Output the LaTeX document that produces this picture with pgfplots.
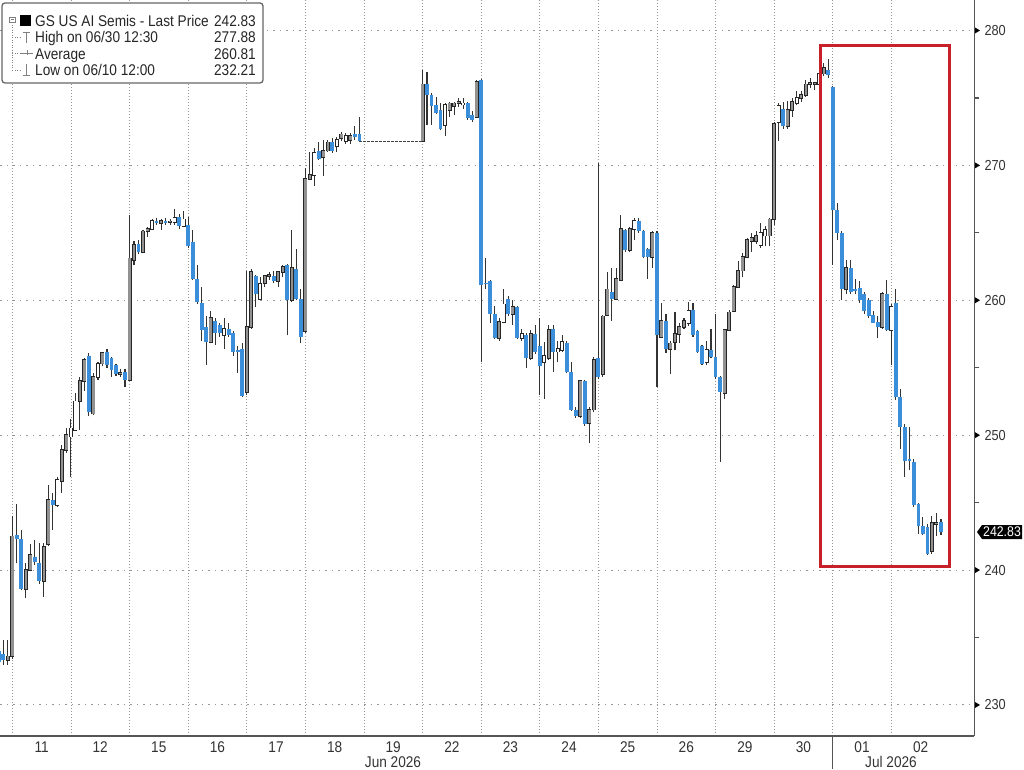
\documentclass[border=0pt]{standalone}
\usepackage{fontspec}
\setmainfont{Liberation Sans}
\newfontfamily\bbfont[FakeStretch=0.88]{Liberation Sans}
\usepackage{pgfplots}
\pgfplotsset{compat=1.18}
\usepackage{pgfplotstable}

\definecolor{bbblue}{RGB}{58,142,218}
\definecolor{bbgray}{RGB}{145,145,145}
\definecolor{gridgray}{RGB}{150,150,150}
\definecolor{axisgray}{RGB}{85,85,85}
\definecolor{boxred}{RGB}{200,32,40}

% 30-minute bars: t = bar number (13 per session, 0 = first bar of Jun 11)
% k: 0 = down (blue), 1 = up (gray), 2 = up (hollow)
\pgfplotstableread{
t o h l c k
-3 234.0 234.6 232.4 233.2 0
-2 233.8 234.8 233.0 233.3 0
-1 233.3 234.8 233.0 233.6 1
0 233.6 244.0 233.4 242.5 1
1 242.6 244.9 240.5 242.3 0
2 242.3 243.0 238.5 238.6 0
3 238.6 240.5 237.9 240.0 1
4 240.0 241.9 239.9 241.1 1
5 241.0 242.2 240.4 240.6 0
6 240.5 242.0 239.0 239.2 0
7 239.2 242.0 238.0 241.7 1
8 241.9 246.3 241.8 245.2 1
9 245.2 245.7 243.0 244.8 0
10 244.8 246.9 244.7 246.7 2
11 246.6 249.3 245.7 248.9 1
12 248.9 250.5 248.7 250.0 1
13 249.9 251.2 246.9 250.5 2
14 250.4 253.1 250.3 252.5 2
15 252.5 254.3 250.4 254.0 1
16 254.0 255.7 253.3 255.6 1
17 255.9 256.1 251.4 251.7 0
18 251.6 254.6 251.5 254.3 1
19 254.3 255.4 254.1 255.3 2
20 255.3 256.2 255.1 256.1 1
21 256.2 256.4 255.0 255.2 0
22 255.7 255.8 254.3 254.8 0
23 255.2 255.3 254.4 254.5 0
24 254.5 254.9 254.3 254.6 1
25 254.7 254.9 253.6 254.1 0
26 254.1 266.3 254.0 263.1 1
27 263.0 264.4 262.6 264.1 1
28 264.2 264.5 263.4 263.6 0
29 263.6 265.2 263.5 265.1 1
30 265.1 265.4 264.7 265.3 1
31 265.3 266.0 265.2 265.9 2
32 265.9 266.1 265.6 265.7 0
33 265.7 266.0 265.2 265.9 1
34 265.9 266.1 265.6 265.75 0
35 265.8 266.0 265.6 265.85 1
36 265.8 266.8 265.6 266.1 2
37 266.2 266.4 265.3 265.5 0
38 265.5 266.6 265.4 266.0 2
39 265.6 266.2 263.9 264.0 0
40 264.3 265.2 261.5 261.6 0
41 261.6 262.6 259.7 259.9 0
42 259.8 261.0 257.0 257.8 0
43 258.0 258.8 255.2 256.9 0
44 256.9 259.2 256.8 258.7 1
45 258.5 258.7 256.7 257.6 0
46 258.2 258.3 257.3 257.6 0
47 257.4 258.7 256.4 257.9 2
48 257.9 258.3 257.3 257.4 0
49 257.6 257.7 255.9 256.2 0
50 256.3 256.6 254.6 256.15 0
51 256.4 256.8 252.8 252.9 0
52 253.2 262.2 253.0 258.0 1
53 258.0 262.3 257.9 262.1 1
54 261.8 261.9 259.5 260.5 0
55 260.1 261.7 260.0 261.2 2
56 261.3 261.9 261.0 261.8 1
57 261.8 262.1 261.5 261.9 1
58 261.8 262.2 261.3 261.4 0
59 261.4 262.2 261.0 262.1 1
60 262.1 262.6 261.7 262.5 1
61 262.6 262.7 257.4 260.0 0
62 260.0 265.2 259.9 262.4 1
63 262.3 263.8 260.0 260.1 0
64 260.1 260.8 256.8 257.3 0
65 257.7 269.8 257.6 269.0 1
66 269.0 271.0 268.9 269.3 1
67 269.3 271.3 268.5 270.9 2
68 271.1 271.7 270.4 270.5 0
69 270.6 271.9 269.2 271.1 1
70 271.1 271.9 271.0 271.7 1
71 271.7 272.0 270.9 271.1 0
72 271.4 272.1 271.0 271.9 2
73 272.0 272.5 271.8 272.3 1
74 271.8 272.4 271.6 272.2 2
75 271.9 272.4 271.6 272.2 1
76 272.3 272.9 271.9 272.1 0
77 272.3 273.6 271.7 271.8 0
91 271.8 277.1 271.7 276.0 1
92 276.0 276.9 273.0 275.2 0
93 275.2 275.4 273.0 274.4 0
94 274.5 275.1 273.8 273.9 0
95 274.1 274.6 272.6 272.7 0
96 273.0 274.6 272.2 274.5 2
97 274.1 274.7 273.6 274.6 1
98 274.4 274.7 273.7 274.6 1
99 274.6 275.0 274.3 274.7 1
100 274.5 275.0 274.2 274.6 2
101 274.6 274.7 273.4 273.5 0
102 273.7 274.0 273.2 273.4 0
103 273.6 276.3 273.6 276.2 1
104 276.3 276.4 255.4 261.1 0
105 261.3 263.1 260.8 261.2 0
106 261.4 261.5 258.3 259.0 0
107 259.0 259.6 257.1 257.2 0
108 257.2 258.7 257.0 258.4 1
109 258.4 260.8 258.3 259.7 2
110 260.1 260.3 258.8 259.0 0
111 259.0 260.0 258.2 259.5 1
112 259.5 259.6 257.1 257.2 0
113 257.2 257.9 257.0 257.5 2
114 257.4 257.6 255.0 255.7 0
115 255.7 257.8 255.6 257.5 1
116 257.5 258.2 256.0 256.2 0
117 256.6 258.7 253.0 255.1 0
118 255.4 256.9 252.7 255.9 2
119 255.7 258.2 255.6 257.8 1
120 257.9 258.2 254.7 256.2 0
121 256.2 257.0 255.4 256.4 2
122 256.3 257.4 256.2 256.9 2
123 256.8 257.0 254.6 254.7 0
124 254.7 255.4 251.8 251.9 0
125 251.9 252.1 251.3 251.4 0
126 251.4 254.1 251.3 254.0 1
127 254.0 254.1 250.7 250.8 0
128 250.9 252.1 249.4 251.9 1
129 251.9 255.8 251.7 255.6 1
130 255.7 270.2 254.2 254.3 0
131 254.5 258.9 254.3 258.8 1
132 258.9 262.1 258.8 260.8 1
133 260.6 262.4 258.5 260.1 0
134 260.1 262.4 260.0 261.6 1
135 261.5 266.3 261.4 265.3 1
136 265.2 265.3 263.6 263.7 0
137 263.7 265.4 263.6 265.3 1
138 265.3 266.1 264.5 265.9 2
139 265.9 266.1 265.0 265.1 0
140 265.1 265.2 263.1 263.2 0
141 263.8 263.9 261.6 263.2 0
142 263.2 265.1 262.4 265.0 1
143 265.0 265.1 253.6 257.4 0
144 257.3 259.8 257.2 258.5 1
145 258.5 259.0 256.1 256.4 0
146 256.4 257.0 254.5 256.8 1
147 256.9 259.1 256.3 257.5 1
148 257.5 258.3 256.8 258.0 1
149 258.0 258.7 257.9 258.5 1
150 258.3 259.9 258.1 259.2 2
151 259.3 259.8 257.3 257.4 0
152 257.7 257.8 256.1 256.2 0
153 256.6 256.7 255.2 255.3 0
154 255.4 257.0 255.2 256.3 2
155 256.3 257.9 255.7 255.8 0
156 255.8 259.0 254.2 254.3 0
157 254.3 254.4 248.0 253.2 0
158 253.1 257.9 252.7 257.8 1
159 257.8 259.3 257.7 259.1 1
160 259.2 261.1 259.1 261.0 1
161 261.0 262.9 260.9 262.2 1
162 262.2 263.5 261.7 263.2 1
163 263.2 264.6 263.1 264.5 1
164 264.4 265.0 263.6 264.6 1
165 264.4 265.1 264.2 264.8 1
166 264.1 265.7 263.9 265.0 2
167 264.8 265.5 264.0 265.2 2
168 264.8 266.1 264.0 266.0 1
169 266.0 273.2 265.6 273.1 1
170 273.2 274.6 271.8 274.4 2
171 274.2 274.7 272.7 272.9 0
172 272.9 274.8 272.7 274.1 1
173 274.1 275.0 273.6 274.7 1
174 274.6 275.5 274.5 275.0 2
175 275.0 275.5 274.7 275.2 1
176 275.2 276.3 275.1 276.0 1
177 276.0 276.5 275.7 276.1 1
178 276.0 276.2 275.6 276.1 1
179 276.0 277.2 275.8 276.8 2
180 276.8 277.6 276.6 277.2 1
181 277.1 277.88 276.5 276.7 0
182 275.8 275.9 262.6 266.7 0
183 266.7 267.2 264.5 265.0 0
184 265.0 265.1 260.0 260.8 0
185 260.8 263.0 260.5 262.4 1
186 262.4 263.0 260.5 260.6 0
187 260.8 261.6 260.5 260.7 0
188 260.9 261.4 259.8 260.0 0
189 260.5 260.6 259.0 259.2 0
190 260.0 260.2 258.7 258.8 0
191 258.9 259.2 258.3 258.35 0
192 258.4 258.8 257.2 258.0 0
193 258.0 260.6 257.9 260.5 1
194 260.5 261.5 257.7 257.8 0
195 257.8 259.7 255.2 259.5 2
196 259.8 260.8 252.6 252.8 0
197 252.8 253.4 249.0 250.6 0
198 250.6 250.8 246.9 248.1 0
199 248.2 250.6 247.4 248.1 0
200 248.0 248.2 244.7 244.8 0
201 244.9 245.0 242.7 243.3 0
202 243.3 243.9 242.6 242.7 0
203 243.2 243.4 241.1 241.2 0
204 241.4 244.0 241.2 243.5 1
205 243.4 244.2 242.5 243.5 1
206 243.6 243.8 242.6 242.83 0
}\bars

\begin{document}
\begin{tikzpicture}[x=1pt,y=1pt]
\useasboundingbox (0,-33) rectangle (1024,736);
\begin{axis}[
    at={(0,0)}, anchor=south west,
    scale only axis, width=974.3pt, height=736pt,
    xmin=-2.73, xmax=213.4,
    ymin=227.70, ymax=282.26,
    clip mode=individual,
    axis x line*=bottom, axis y line*=right,
    axis line style={axisgray, line width=1.4pt},
    xtick={0,13,...,195}, xticklabels={},
    extra x ticks={6.5,19.5,...,201.5},
    extra x tick labels={11,12,15,16,17,18,19,22,23,24,25,26,29,30,01,02},
    extra x tick style={grid=none, major tick length=0pt},
    xticklabel style={font=\bbfont\fontsize{15.5}{15.5}\selectfont, text=black!80,
        anchor=base, inner sep=0pt, yshift=-16.5pt},
    ytick={230,240,...,280},
    minor ytick={235,245,...,275},
    /pgf/number format/assume math mode=true,
    yticklabel style={font=\bbfont\fontsize{14.5}{14.5}\selectfont, text=black!80,
        anchor=west, inner sep=0pt, xshift=10pt},
    major tick length=0pt, minor tick length=5pt,
    tick align=outside,
    tick style={axisgray, line width=1.2pt},
    xmajorgrids, ymajorgrids,
    x grid style={gridgray, line width=0.8pt, dash pattern=on 1pt off 2pt},
    y grid style={gridgray, line width=1pt, dash pattern=on 1.5pt off 5pt},
]
% wicks
\addplot[no markers, draw=black!80, line width=1.1pt,
    quiver={u=0, v=\thisrow{h}-\thisrow{l}}]
    table[x=t, y=l] {\bars};
% down bodies
\addplot[no markers, draw=bbblue, line width=3.8pt,
    quiver={u=0, v=\thisrow{c}-\thisrow{o}},
    restrict expr to domain={\thisrow{k}}{-0.5:0.5}]
    table[x=t, y=o] {\bars};
% up bodies: outline
\addplot[no markers, draw=black!85, line width=4pt,
    quiver={u=0, v=\thisrow{c}-\thisrow{o}+0.12},
    restrict expr to domain={\thisrow{k}}{0.5:2.5}]
    table[x=t, y expr=\thisrow{o}-0.06] {\bars};
% up bodies: gray fill
\addplot[no markers, draw=bbgray, line width=2.4pt,
    quiver={u=0, v=\thisrow{c}-\thisrow{o}},
    restrict expr to domain={\thisrow{k}}{0.5:1.5}]
    table[x=t, y=o] {\bars};
% up bodies: hollow
\addplot[no markers, draw=white, line width=2.4pt,
    quiver={u=0, v=\thisrow{c}-\thisrow{o}},
    restrict expr to domain={\thisrow{k}}{1.5:2.5}]
    table[x=t, y=o] {\bars};
% Jun 19 holiday: last price carried
\addplot[no markers, black!75, line width=1pt, dash pattern=on 2.5pt off 1.5pt]
    coordinates {(77,271.8) (91,271.8)};
% highlight box
\draw[boxred, line width=3pt] (axis cs:179.3,240.3) rectangle (axis cs:208.0,278.87);
% tick arrows on the price axis
\pgfplotsinvokeforeach{230,240,...,280}{
  \fill[black] (axis cs:213.4,#1) ++(0.7pt,-3pt) -- ++(5pt,3pt) -- ++(-5pt,3pt) -- cycle;
}
\end{axis}

% month labels and separator
\draw[axisgray, line width=1.2pt] (832.7,0) -- (832.7,-33);
\node[font=\bbfont\fontsize{15.5}{15.5}\selectfont, text=black!80, anchor=base, inner sep=0pt]
    at (393,-31) {Jun 2026};
\node[font=\bbfont\fontsize{15.5}{15.5}\selectfont, text=black!80, anchor=base, inner sep=0pt]
    at (891,-31) {Jul 2026};

% last price tag
\fill[black] (977,204) -- (982,211) -- (1022,211) -- (1022,197) -- (982,197) -- cycle;
\node[font=\bbfont\fontsize{14}{14}\selectfont, text=white, inner sep=0pt]
    at (1002,204) {242.83};

% legend box
\draw[rounded corners=3pt, draw=black!60, line width=1.3pt, fill=white]
    (2,733) rectangle (263,653);
\draw[gray, line width=0.8pt] (9.5,713.5) rectangle (15,719);
\draw[gray, line width=0.8pt] (10.8,716.25) -- (13.7,716.25);
\fill[black] (20,710) rectangle (30.5,721);
\draw[gray, line width=0.8pt, dash pattern=on 1pt off 1.5pt]
    (12.25,713.5) -- (12.25,666) -- (20,666)
    (12.25,699) -- (20,699) (12.25,683) -- (20,683);
\draw[gray, line width=0.9pt] (22.5,704) -- (29.5,704) (26,704) -- (26,693);
\draw[gray, line width=0.9pt] (21,683) -- (33,683) (27,680.5) -- (27,685.5);
\draw[gray, line width=0.9pt] (22.5,661) -- (29.5,661) (26,672) -- (26,661);
\begin{scope}[every node/.style={font=\bbfont\fontsize{15.5}{15.5}\selectfont,
    text=black!85, inner sep=0pt}]
\node[anchor=base west] at (35,709.3) {GS US AI Semis - Last Price};
\node[anchor=base east] at (256,709.3) {242.83};
\node[anchor=base west] at (35,693) {High on 06/30 12:30};
\node[anchor=base east] at (256,693) {277.88};
\node[anchor=base west] at (35,676.5) {Average};
\node[anchor=base east] at (256,676.5) {260.81};
\node[anchor=base west] at (35,660) {Low on 06/10 12:00};
\node[anchor=base east] at (256,660) {232.21};
\end{scope}
\end{tikzpicture}
\end{document}
